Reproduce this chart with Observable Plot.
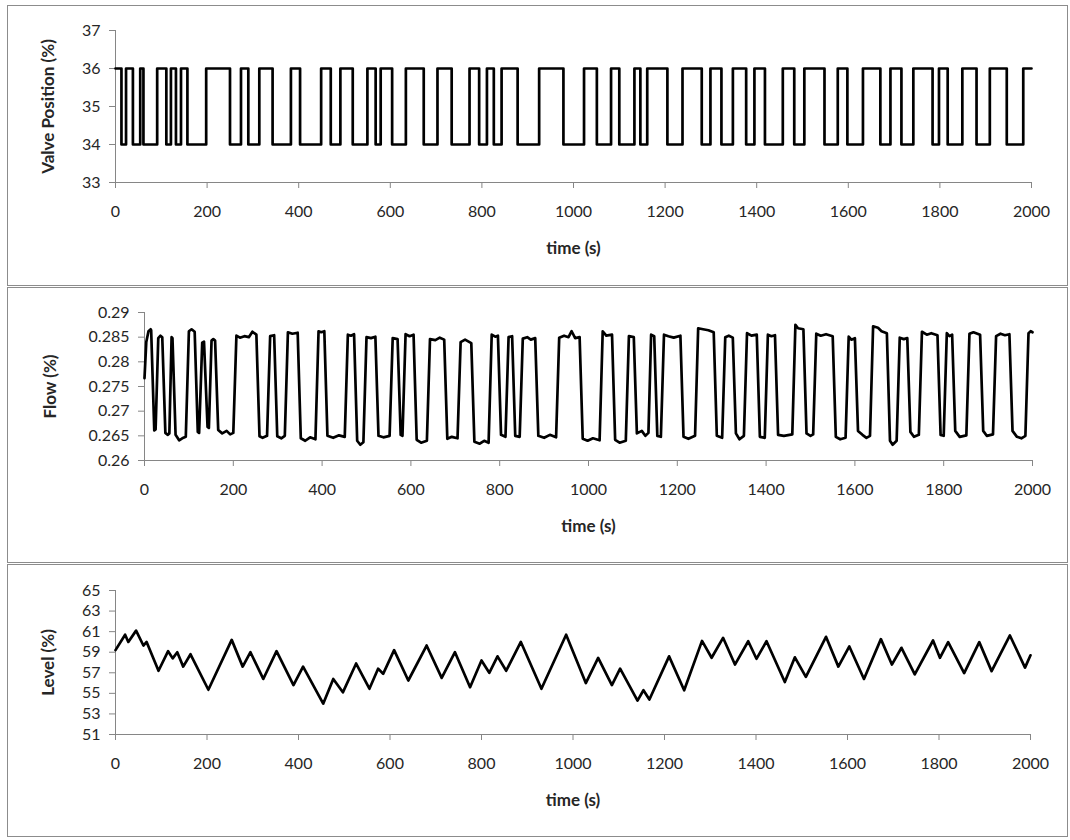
<!DOCTYPE html>
<html><head><meta charset="utf-8">
<script src="https://cdn.jsdelivr.net/npm/d3@7"></script>
<script src="https://cdn.jsdelivr.net/npm/@observablehq/plot@0.6"></script>
<style>
html,body{margin:0;padding:0;background:#fff}
body{width:1070px;height:840px;position:relative;overflow:hidden;font-family:Lato,sans-serif}
.panel{position:absolute;left:7px;width:1059px;border:1px solid #8c8c8c;background:#fff}
.panel svg{display:block}
</style></head><body>
<div id="p1" class="panel" style="top:5px;height:279px"></div>
<div id="p2" class="panel" style="top:287px;height:274px"></div>
<div id="p3" class="panel" style="top:564px;height:271px"></div>
<script>
const xTicks = [0,200,400,600,800,1000,1200,1400,1600,1800,2000];

// Valve position: switching times (s) and the value held from that time on
const valveTimes = [0,13,23,38,54,61,91,111,121,132,143,157,198,250,274,290,314,343,383,403,449,470,491,518,550,568,579,604,634,673,703,734,773,794,811,826,843,878,925,978,1023,1051,1082,1100,1133,1146,1161,1205,1238,1280,1299,1323,1348,1377,1395,1418,1457,1482,1504,1548,1577,1598,1632,1670,1692,1716,1742,1784,1798,1817,1849,1880,1909,1946,1982,2000];
const valveValues = [36,34,36,34,36,34,36,34,36,34,36,34,36,34,36,34,36,34,36,34,36,34,36,34,36,34,36,34,36,34,36,34,36,34,36,34,36,34,36,34,36,34,36,34,36,34,36,34,36,34,36,34,36,34,36,34,36,34,36,34,36,34,36,34,36,34,36,34,36,34,36,34,36,34,36,36];
const valveTicks = [33,34,35,36,37];

// Flow (%): [time, value]
const flowPoints = [
[0,0.2767],[4,0.2840],[9,0.2862],[14,0.2866],[15,0.2864],[22,0.2661],[25,0.2663],
[31,0.2848],[36,0.2853],[40,0.2850],[47,0.2656],[52,0.2652],[56,0.2655],[61,0.2850],[63,0.2848],
[70,0.2652],[78,0.2641],[85,0.2645],[93,0.2648],[100,0.2862],[106,0.2866],[113,0.2861],
[120,0.2658],[123,0.2656],[130,0.2839],[134,0.2841],[142,0.2668],[145,0.2666],
[151,0.2843],[155,0.2846],[159,0.2843],[166,0.2662],[175,0.2655],[185,0.2660],[193,0.2653],[200,0.2656],
[207,0.2853],[215,0.2849],[225,0.2852],[235,0.2850],[243,0.2861],[252,0.2855],
[259,0.2649],[266,0.2646],[276,0.2650],[283,0.2852],[292,0.2854],[299,0.2649],[308,0.2645],[316,0.2650],
[323,0.2860],[333,0.2857],[345,0.2859],[352,0.2645],[362,0.2640],[373,0.2647],[385,0.2643],
[392,0.2862],[398,0.2860],[405,0.2862],[412,0.2650],[425,0.2646],[438,0.2651],[451,0.2648],
[458,0.2855],[465,0.2853],[472,0.2856],[479,0.2640],[486,0.2632],[493,0.2637],
[500,0.2850],[510,0.2848],[520,0.2851],[527,0.2650],[538,0.2647],[552,0.2650],
[559,0.2848],[570,0.2846],[577,0.2652],[581,0.2650],[588,0.2856],[597,0.2852],[606,0.2855],
[613,0.2642],[623,0.2636],[636,0.2640],[643,0.2846],[655,0.2844],[665,0.2849],[675,0.2845],
[682,0.2644],[692,0.2648],[705,0.2645],[712,0.2840],[722,0.2845],[736,0.2838],
[743,0.2638],[755,0.2634],[765,0.2640],[775,0.2636],[782,0.2855],[790,0.2851],[796,0.2853],
[803,0.2652],[813,0.2648],[820,0.2850],[828,0.2852],[835,0.2650],[845,0.2648],
[852,0.2847],[862,0.2850],[870,0.2845],[880,0.2848],[887,0.2650],[900,0.2646],[913,0.2652],[927,0.2647],
[934,0.2849],[945,0.2853],[955,0.2850],[962,0.2862],[970,0.2848],[980,0.2850],
[987,0.2644],[998,0.2640],[1010,0.2645],[1025,0.2641],[1032,0.2862],[1040,0.2853],[1053,0.2855],
[1060,0.2642],[1070,0.2636],[1084,0.2640],[1091,0.2852],[1102,0.2850],
[1109,0.2655],[1120,0.2660],[1128,0.2650],[1135,0.2656],[1141,0.2855],[1148,0.2852],
[1155,0.2650],[1163,0.2648],[1170,0.2855],[1180,0.2852],[1192,0.2849],[1207,0.2853],
[1214,0.2648],[1225,0.2644],[1240,0.2650],[1247,0.2868],[1258,0.2866],[1270,0.2864],[1282,0.2860],
[1289,0.2650],[1301,0.2646],[1308,0.2850],[1316,0.2853],[1325,0.2849],
[1332,0.2655],[1340,0.2643],[1350,0.2650],[1357,0.2858],[1367,0.2853],[1379,0.2855],
[1386,0.2648],[1397,0.2646],[1404,0.2855],[1412,0.2852],[1420,0.2854],
[1427,0.2652],[1440,0.2650],[1459,0.2653],[1466,0.2875],[1472,0.2868],[1484,0.2866],
[1491,0.2655],[1500,0.2650],[1506,0.2653],[1513,0.2857],[1523,0.2853],[1535,0.2856],[1550,0.2852],
[1557,0.2648],[1567,0.2643],[1579,0.2646],[1586,0.2851],[1592,0.2845],[1600,0.2848],
[1607,0.2660],[1617,0.2652],[1626,0.2646],[1634,0.2650],[1641,0.2872],[1652,0.2869],[1660,0.2862],[1672,0.2858],
[1679,0.2640],[1685,0.2632],[1694,0.2640],[1701,0.2849],[1710,0.2846],[1718,0.2848],
[1725,0.2658],[1733,0.2648],[1744,0.2652],[1751,0.2861],[1762,0.2855],[1772,0.2858],[1786,0.2854],
[1793,0.2652],[1800,0.2650],[1807,0.2858],[1813,0.2852],[1819,0.2855],
[1826,0.2660],[1836,0.2648],[1851,0.2651],[1858,0.2857],[1867,0.2860],[1882,0.2855],
[1889,0.2660],[1897,0.2650],[1911,0.2653],[1918,0.2852],[1928,0.2857],[1938,0.2854],[1948,0.2856],
[1955,0.2660],[1965,0.2648],[1975,0.2645],[1984,0.2650],[1991,0.2858],[1996,0.2862],[2000,0.2860]
];
const flowTicks = [0.26,0.265,0.27,0.275,0.28,0.285,0.29];

// Level (%): [time, value]
const levelPoints = [
[0,59.2],[21,60.7],[28,60.0],[45,61.1],[61,59.65],[68,60.0],[94,57.2],[115,59.1],[125,58.4],[135,59.0],
[148,57.6],[164,58.8],[203,55.35],[254,60.2],[278,57.6],[295,59.0],[323,56.4],[352,59.1],[389,55.8],
[410,57.6],[454,54.0],[476,56.4],[497,55.1],[526,57.9],[555,55.45],[574,57.4],[585,56.9],[609,59.2],
[640,56.25],[680,59.65],[713,56.5],[742,59.0],[775,55.6],[800,58.2],[817,57.0],[835,58.6],[854,57.2],
[886,60.0],[931,55.45],[985,60.7],[1028,56.0],[1055,58.45],[1085,55.8],[1103,57.4],[1141,54.3],
[1154,55.3],[1167,54.4],[1210,58.6],[1243,55.3],[1282,60.1],[1303,58.46],[1328,60.4],[1354,57.8],
[1383,60.07],[1401,58.36],[1423,60.07],[1463,56.1],[1485,58.5],[1509,56.6],[1553,60.5],[1580,57.6],
[1604,59.56],[1636,56.4],[1673,60.27],[1697,57.8],[1718,59.43],[1747,56.84],[1787,60.14],[1802,58.46],
[1820,59.98],[1855,56.97],[1888,59.98],[1915,57.16],[1955,60.63],[1988,57.5],[2000,58.7]
];
const levelTicks = [51,53,55,57,59,61,63,65];

const AXIS = "#868686", TXT = "#262626";
function panel({data, x, y, curve, yDomain, yTicks, yFmt, ylabel, width, height, ml, mr, mt, mb, ylabDx}) {
  return Plot.plot({
    width, height, marginLeft: ml, marginRight: mr, marginTop: mt, marginBottom: mb,
    style: {fontFamily: "Lato, 'Open Sans', sans-serif", fontSize: "16px", color: TXT, background: "#fff", overflow: "visible"},
    x: {domain: [0, 2000]},
    y: {domain: yDomain},
    marks: [
      Plot.ruleY([yDomain[0]], {stroke: AXIS, strokeWidth: 1}),
      Plot.ruleX([0], {stroke: AXIS, strokeWidth: 1}),
      Plot.axisX({ticks: xTicks, tickSize: 6, tickPadding: 17, stroke: AXIS, fill: TXT, label: null, tickFormat: d => String(d)}),
      Plot.axisY({ticks: yTicks, tickSize: 6, tickPadding: 9, stroke: AXIS, fill: TXT, label: null, tickFormat: yFmt}),
      Plot.line(data, {x, y, curve, stroke: "#000", strokeWidth: 2.7, strokeLinejoin: "round"}),
      Plot.text(["time (s)"], {text: d => d, frameAnchor: "bottom", lineAnchor: "middle", textAnchor: "middle", dy: 66, fontWeight: "bold", fontSize: 17, fill: TXT}),
      Plot.text([ylabel], {text: d => d, frameAnchor: "left", lineAnchor: "middle", textAnchor: "middle", dx: ylabDx, rotate: -90, fontWeight: "bold", fontSize: 17, fill: TXT})
    ]
  });
}

const valveData = valveTimes.map((t, i) => ({t, v: valveValues[i]}));
document.getElementById("p1").append(panel({
  data: valveData, x: "t", y: "v", curve: "step-after",
  yDomain: [33, 37], yTicks: valveTicks, yFmt: d => String(d), ylabel: "Valve Position (%)",
  width: 1059, height: 279, ml: 107, mr: 36, mt: 24, mb: 103, ylabDx: -67
}));
document.getElementById("p2").append(panel({
  data: flowPoints, x: d => d[0], y: d => d[1], curve: "linear",
  yDomain: [0.26, 0.29], yTicks: flowTicks, yFmt: d => String(+d.toFixed(3)), ylabel: "Flow (%)",
  width: 1059, height: 274, ml: 136, mr: 35, mt: 24, mb: 102, ylabDx: -94
}));
document.getElementById("p3").append(panel({
  data: levelPoints, x: d => d[0], y: d => d[1], curve: "linear",
  yDomain: [51, 65], yTicks: levelTicks, yFmt: d => String(d), ylabel: "Level (%)",
  width: 1059, height: 271, ml: 107, mr: 37, mt: 25, mb: 102, ylabDx: -67
}));
</script>
</body></html>
